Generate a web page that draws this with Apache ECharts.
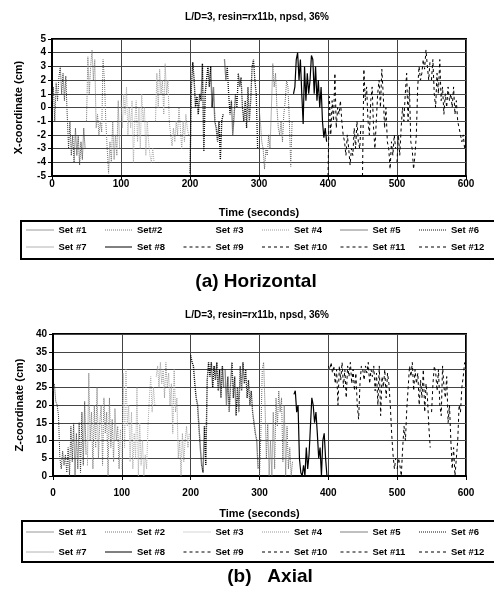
<!DOCTYPE html>
<html>
<head>
<meta charset="utf-8">
<script src="https://cdn.jsdelivr.net/npm/echarts@6/dist/echarts.min.js"></script>
<style>
html, body { margin: 0; padding: 0; background: #fff; }
#main { width: 494px; height: 593px; }
</style>
</head>
<body>
<div id="main"></div>
<script>
// each set lasts 50 s, every 2 s
var SET_LEN = 50, STEP = 2;

var namesA = ['Set #1', 'Set#2', 'Set #3', 'Set #4', 'Set #5', 'Set #6',
              'Set #7', 'Set #8', 'Set #9', 'Set #10', 'Set #11', 'Set #12'];
var namesB = ['Set #1', 'Set #2', 'Set #3', 'Set #4', 'Set #5', 'Set #6',
              'Set #7', 'Set #8', 'Set #9', 'Set #10', 'Set #11', 'Set #12'];

// (a) horizontal, X-coordinate (cm)
var hor1  = [0.5, 1.5, -1, 1.8, 0.5, 2.2, 3, 1, 2.5, 0.5, 2.3, -0.5, -3, -1, -3.5, -2, -4, -1.5, -3.5, -2, -4.2, -2.5, -3.8, -1.5, -3];
var hor2  = [-1, 3.7, 1, 3, 4.2, 2, 3.5, -1.5, -0.5, -2, -1, -1.8, 3.5, 2, -1, -3, -4.8, -2.5, -4, -1, -3.8, -2, -3.5, 0.5, -3];
var hor3  = [0.5, -1.5, 1, -0.5, 1.5, -2, 0, -1.5, 0.5, -4, -1, 0.5, -2.5, 0, -3, 1, -1, 0, -3.5, -1, -2.5, -3.5, -4, -3, -4];
var hor4  = [-1, 2.5, 0, 2.8, 1, 2, -0.5, 3.2, 1, 2, -1, -2, -2.8, -1.5, -2.5, -1, -2, 0, -1.5, -3, -1, -2.5, -0.5, -1.5, -2];
var hor5  = [-4.8, 1.5, 3.3, 2, 0, 0.8, -0.5, 1, 0.5, 3.2, -3.2, 1, 2, 3, 1.5, 3, 0, 1.5, -1, -1.5, -2.5, -1, -3.8, -1, -0.5];
var hor6  = [3.5, 2, 3, 1, -0.5, 0.5, -2, -0.5, 1, 0, 2.5, 1.5, 2.2, 0, -1, 0.5, -1.5, 1.5, -1, 0.5, 3, 3.5, 2, 1, -3];
var hor7  = [0, -1, -2.5, -3, -4.5, -3, -3.5, -2, -3, 0, 3.2, 1.5, 2.5, 0, -1.5, -2, -1, -2.5, -0.5, 0.5, 2, 1.5, -1, -4.3, -1];
var hor8  = [1, 1.5, 3.5, 4, 2, 3.5, 1, -1.2, 3, 0.5, 2.5, 1, 2, 3.8, 3.5, 1, 3, 0.5, 2, 0, 1.5, -1, -2.2, -1.5, -2.5];
var hor9  = [-5, 0.8, -2, 0.5, -1, 2.5, -1.5, 0, -0.5, 0.5, -1, -2, -2.5, -3.5, -2, -3, -4.2, -3, -3.5, -1.5, -3, -1, -2.5, -3, -1];
var hor10 = [-5, 2.8, 0.5, 1.5, -1, -2, 0.5, 1.5, -1.5, -3, -1, 1, 2, 0, 2.8, 1, -1.5, 0, -2.5, -3, -4.5, -2.5, -3.5, -2, -3];
var hor11 = [-4, -2, -3.5, -1.5, 0, -1, 1, 2.5, -1, 1.5, -2.5, -3, -4.5, -3.5, -2, 1.5, 3, 2, 2.5, 3.5, 2.8, 4.2, 3, 2, 3.5];
var hor12 = [2, 3.5, 1, 0, 2.5, 1, 3.5, 0.5, 1.5, -0.5, 1, 0, 1.5, 0.5, 1, 0, 1.5, -0.5, 0.5, -1, -1.5, -2, -2.5, -2, -3];

// (b) axial, Z-coordinate (cm)
var axi1  = [24, 26, 21, 20, 17, 5, 2, 7, 3, 6, 1, 8, 0, 14, 4, 15, 0, 12, 2, 15, 1, 18, 3, 21, 6];
var axi2  = [3, 29, 10, 18, 2, 20, 8, 25, 5, 15, 20, 3, 22, 12, 18, 0, 22, 8, 16, 4, 19, 10, 14, 2, 13];
var axi3  = [2, 29, 8, 30, 14, 20, 4, 18, 2, 12, 5, 25, 0, 15, 3, 10, 0, 6, 2, 14, 22, 28, 18, 25, 20];
var axi4  = [28, 31, 25, 32, 26, 30, 22, 32, 25, 29, 20, 26, 12, 30, 18, 22, 5, 10, 0, 12, 4, 10, 14, 8, 12];
var axi5  = [34, 32, 31, 26, 22, 20, 14, 8, 3, 1, 14, 3, 27, 32, 28, 32, 25, 31, 27, 32, 24, 30, 22, 31, 25];
var axi6  = [30, 20, 28, 18, 26, 32, 22, 28, 17, 25, 18, 31, 24, 32, 26, 30, 22, 27, 20, 24, 18, 15, 12, 10, 2];
var axi7  = [0, 12, 30, 32, 20, 5, 15, 0, 10, 0, 18, 2, 22, 14, 24, 18, 22, 4, 20, 0, 14, 2, 8, 0, 4];
var axi8  = [23, 24, 18, 20, 5, 1, 0, 3, 0, 8, 2, 6, 14, 22, 20, 15, 18, 12, 5, 8, 0, 10, 12, 5, 0];
var axi9  = [31, 30, 32, 29, 31, 26, 30, 20, 31, 27, 32, 25, 30, 22, 31, 28, 32, 26, 30, 24, 29, 20, 16, 26, 31];
var axi10 = [30, 27, 31, 29, 32, 26, 30, 28, 31, 24, 29, 20, 31, 17, 28, 25, 30, 22, 29, 26, 20, 12, 6, 2, 5];
var axi11 = [2, 5, 3, 0, 8, 14, 10, 19, 25, 31, 28, 32, 24, 30, 26, 29, 20, 27, 22, 30, 18, 26, 22, 14, 8];
var axi12 = [18, 26, 31, 29, 24, 30, 20, 17, 31, 25, 22, 28, 15, 20, 10, 2, 8, 0, 5, 10, 20, 18, 25, 28, 32];

var horSets = [hor1, hor2, hor3, hor4, hor5, hor6, hor7, hor8, hor9, hor10, hor11, hor12];
var axiSets = [axi1, axi2, axi3, axi4, axi5, axi6, axi7, axi8, axi9, axi10, axi11, axi12];

// line look per set: dotted for 1-7, solid 8, dashed 9-12
var DOT = [1, 1], DASH = [3, 3];
var setStyles = [
	{ color: '#333', type: DOT, width: 1 }, { color: '#777', type: DOT, width: 1 }, { color: '#aaa', type: DOT, width: 1 },
	{ color: '#999', type: DOT, width: 1 }, { color: '#000', type: DOT, width: 1.4 }, { color: '#111', type: DOT, width: 1.3 },
	{ color: '#666', type: DOT, width: 1 }, { color: '#000', type: 'solid', width: 1.2 }, { color: '#000', type: DASH, width: 1 },
	{ color: '#000', type: DASH, width: 1 }, { color: '#000', type: DASH, width: 1 }, { color: '#000', type: DASH, width: 1 }
];

var FONT = 'Liberation Sans';

function toPairs(vals, k) {
	return vals.map(function (v, i) { return [k * SET_LEN + i * STEP, v]; });
}

var series = [];
function addSeries(sets, names, gi) {
	sets.forEach(function (vals, k) {
		var st = setStyles[k];
		series.push({
			type: 'line',
			name: names[k],
			xAxisIndex: gi,
			yAxisIndex: gi,
			symbol: 'none',
			silent: true,
			data: toPairs(vals, k),
			itemStyle: { color: st.color },
			lineStyle: { color: st.color, type: st.type, width: st.width }
		});
	});
}
addSeries(horSets, namesA, 0);
addSeries(axiSets, namesB, 1);

// one legend per item so the columns line up like the original box
var legends = [];
function addLegends(names, rowMid, hidden) {
	names.forEach(function (n, i) {
		var item = { name: n };
		if (i === hidden) item.lineStyle = { opacity: 0 };
		legends.push({
			left: 26 + (i % 6) * 78.5,
			top: rowMid[Math.floor(i / 6)] - 6,
			itemWidth: 27,
			itemHeight: 10,
			selectedMode: false,
			padding: 0,
			itemStyle: { opacity: 0 },
			lineStyle: { width: 1 },
			textStyle: { color: '#000', fontFamily: FONT, fontWeight: 'bold', fontSize: 9.5, lineHeight: 12 },
			data: [item]
		});
	});
}
addLegends(namesA, [230, 247], 2);
addLegends(namesB, [532, 552], -1);

function xAxisFor(gi, margin, nameGap) {
	return {
		type: 'value', gridIndex: gi, min: 0, max: 600, interval: 100,
		name: 'Time (seconds)', nameLocation: 'middle', nameGap: nameGap,
		nameTextStyle: { color: '#000', fontFamily: FONT, fontWeight: 'bold', fontSize: 11 },
		axisLine: { onZero: false, lineStyle: { color: '#000', width: 2 } },
		axisTick: { show: true, length: 4, lineStyle: { color: '#000' } },
		axisLabel: { margin: margin, color: '#000', fontFamily: FONT, fontWeight: 'bold', fontSize: 10 },
		splitLine: { show: true, lineStyle: { color: '#444', width: 1 } }
	};
}

function yAxisFor(gi, min, max, step, name) {
	return {
		type: 'value', gridIndex: gi, min: min, max: max, interval: step,
		name: name, nameLocation: 'middle', nameGap: 28,
		nameTextStyle: { color: '#000', fontFamily: FONT, fontWeight: 'bold', fontSize: 11 },
		axisLine: { show: true, onZero: false, lineStyle: { color: '#000', width: 2 } },
		axisTick: { show: true, length: 4, lineStyle: { color: '#000' } },
		axisLabel: { margin: 6, color: '#000', fontFamily: FONT, fontWeight: 'bold', fontSize: 10 },
		splitLine: { show: true, lineStyle: { color: '#444', width: 1 } }
	};
}

var title = 'L/D=3, resin=rx11b, npsd, 36%';

var option = {
	backgroundColor: '#fff',
	animation: false,
	grid: [
		{ left: 52, right: 28, top: 39, height: 137, show: true, borderColor: '#000', borderWidth: 2 },
		{ left: 53, right: 28, top: 334, height: 142, show: true, borderColor: '#000', borderWidth: 2 }
	],
	xAxis: [xAxisFor(0, 3, 31), xAxisFor(1, 12, 32)],
	yAxis: [
		yAxisFor(0, -5, 5, 1, 'X-coordinate (cm)'),
		yAxisFor(1, 0, 40, 5, 'Z-coordinate (cm)')
	],
	legend: legends,
	graphic: [
		{ type: 'text', x: 257, y: 17, style: { text: title, textAlign: 'center', textVerticalAlign: 'middle', fill: '#000', font: 'bold 10px "Liberation Sans"' } },
		{ type: 'text', x: 257, y: 315, style: { text: title, textAlign: 'center', textVerticalAlign: 'middle', fill: '#000', font: 'bold 10px "Liberation Sans"' } },
		{ type: 'rect', shape: { x: 21, y: 221, width: 480, height: 38 }, style: { fill: 'none', stroke: '#000', lineWidth: 2 } },
		{ type: 'rect', shape: { x: 22, y: 521, width: 480, height: 41 }, style: { fill: 'none', stroke: '#000', lineWidth: 2 } },
		{ type: 'text', x: 256, y: 282, style: { text: '(a) Horizontal', textAlign: 'center', textVerticalAlign: 'middle', fill: '#000', font: 'bold 19px "Liberation Sans"' } },
		{ type: 'text', x: 270, y: 577, style: { text: '(b)   Axial', textAlign: 'center', textVerticalAlign: 'middle', fill: '#000', font: 'bold 19px "Liberation Sans"' } }
	],
	series: series
};

var chartObj = echarts.init(document.getElementById('main'));
chartObj.setOption(option);
</script>
</body>
</html>
